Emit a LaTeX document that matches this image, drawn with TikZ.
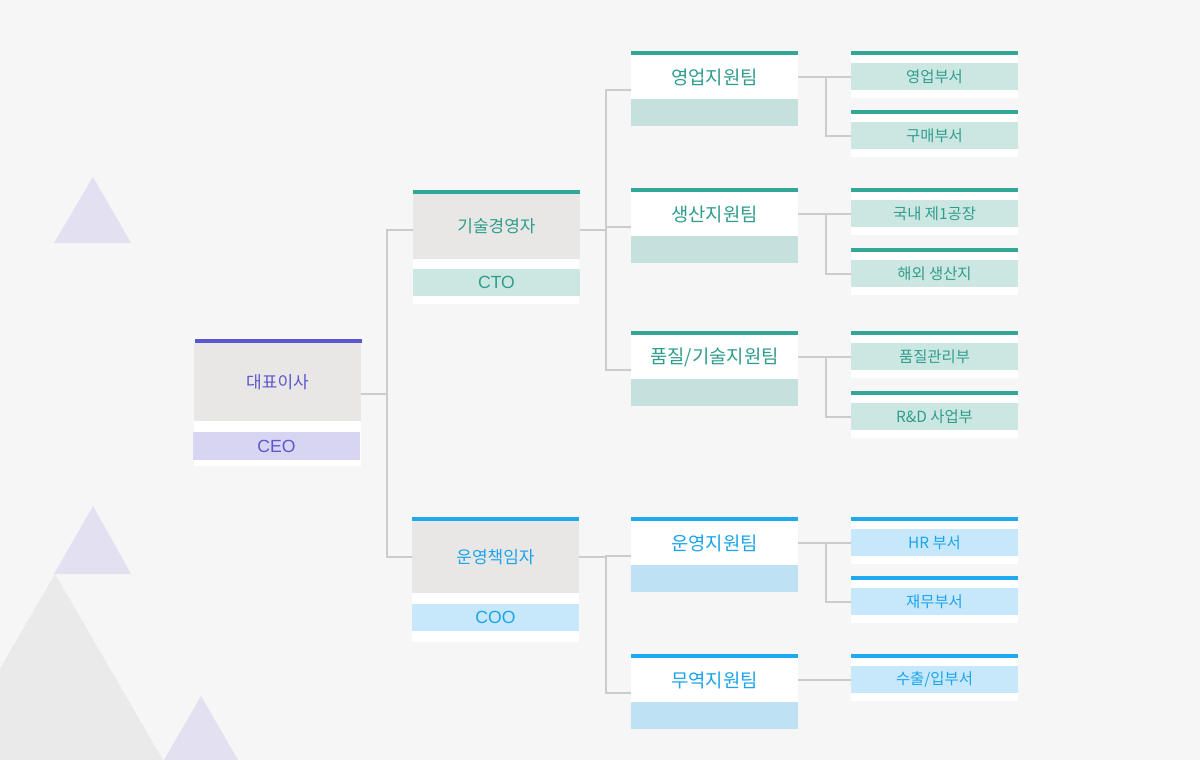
\documentclass[tikz,border=0pt]{standalone}
\usepackage{fontspec}
\setmainfont{Noto Sans CJK KR}
\newfontfamily\codefam{Liberation Sans}
\definecolor{bg}{HTML}{F6F6F6}
\definecolor{trilav}{HTML}{E3E1F1}
\definecolor{trigray}{HTML}{EAEAEA}
\definecolor{purp}{HTML}{5B57CF}
\definecolor{lav}{HTML}{D8D5F2}
\definecolor{gbody}{HTML}{E8E7E5}
\definecolor{teal}{HTML}{33A797}
\definecolor{tealtxt}{HTML}{2E9D8D}
\definecolor{mintB}{HTML}{C5E1DD}
\definecolor{mintC}{HTML}{CCE7E2}
\definecolor{blu}{HTML}{1FAAF0}
\definecolor{blutxt}{HTML}{1BA4EC}
\definecolor{bluB}{HTML}{BEE1F3}
\definecolor{bluC}{HTML}{C6E8FA}
\definecolor{linec}{HTML}{CCCCCC}
\tikzset{
  conn/.style={draw=linec, line width=1pt},
  boxpart/.style={inner sep=0pt, outer sep=0pt, anchor=north west, minimum width=83.5pt},
  lvlone/.style={boxpart, font=\fontsize{8.5}{10}\selectfont},
  codefont/.style={font=\codefam\fontsize{8.8}{10}\selectfont},
  lvltwo/.style={boxpart, fill=white, minimum height=22pt, font=\fontsize{9.4}{11}\selectfont},
  lvlthree/.style={boxpart, minimum height=13.5pt, font=\fontsize{7.7}{9}\selectfont},
}
% third level box: name, top, bar colour, strip colour, text colour, text
\newcommand\thirdbox[6]{%
  \fill[white] (851,#2) rectangle (1018,#2+47);
  \fill[#3] (851,#2) rectangle (1018,#2+4);
  \node[lvlthree, fill=#4, text=#5] (#1) at (851,#2+12) {\raisebox{-0.8pt}{#6}};
}
% second level box: name, top, bar colour, strip colour, text colour, text
\newcommand\secondbox[6]{%
  \fill[#3] (631,#2) rectangle (798,#2+4);
  \node[lvltwo, text=#5] (#1) at (631,#2+4) {\raisebox{-1pt}{#6}};
  \fill[#4] (631,#2+48) rectangle (798,#2+75);
}
\begin{document}
\begin{tikzpicture}[x=0.5pt,y=-0.5pt]
\fill[bg] (0,0) rectangle (1200,760);
\useasboundingbox (0,0) rectangle (1200,760);
% background triangles
\fill[trilav] (93,177) -- (131,243) -- (54,243) -- cycle;
\fill[trilav] (93,506) -- (131,574) -- (54,574) -- cycle;
\fill[trigray] (55,574) -- (163,760) -- (-53,760) -- cycle;
\fill[trilav] (201,696) -- (238,760) -- (164,760) -- cycle;

% ---- level 1: CEO
\fill[white] (194,339) rectangle (361,466);
\fill[purp] (195,339) rectangle (362,343);
\node[lvlone, fill=gbody, minimum height=39pt, text=purp] (ceo) at (194,343) {대표이사};
\node[lvlone, fill=lav, minimum height=14pt, text=purp, codefont] (ceocode) at (193,432) {CEO};

% ---- CTO
\fill[white] (413,190) rectangle (579,304);
\fill[teal] (413,190) rectangle (580,194);
\node[lvlone, fill=gbody, minimum height=32.5pt, text=tealtxt] (cto) at (413,194) {기술경영자};
\node[lvlone, fill=mintC, minimum height=13.5pt, text=tealtxt, codefont] (ctocode) at (413,269) {CTO};

% ---- COO
\fill[white] (412,517) rectangle (579,642);
\fill[blu] (412,517) rectangle (579,521);
\node[lvlone, fill=gbody, minimum height=36pt, text=blutxt] (coo) at (412,521) {운영책임자};
\node[lvlone, fill=bluC, minimum height=13.5pt, text=blutxt, codefont] (coocode) at (412,604) {COO};

% ---- level 2
\secondbox{sales}{51}{teal}{mintB}{tealtxt}{영업지원팀}
\secondbox{prod}{188}{teal}{mintB}{tealtxt}{생산지원팀}
\secondbox{qual}{331}{teal}{mintB}{tealtxt}{품질/기술지원팀}
\secondbox{ops}{517}{blu}{bluB}{blutxt}{운영지원팀}
\secondbox{trade}{654}{blu}{bluB}{blutxt}{무역지원팀}

% ---- level 3
\thirdbox{salesdept}{51}{teal}{mintC}{tealtxt}{영업부서}
\thirdbox{buydept}{110}{teal}{mintC}{tealtxt}{구매부서}
\thirdbox{plant}{188}{teal}{mintC}{tealtxt}{국내 제1공장}
\thirdbox{overseas}{248}{teal}{mintC}{tealtxt}{해외 생산지}
\thirdbox{qc}{331}{teal}{mintC}{tealtxt}{품질관리부}
\thirdbox{rnd}{391}{teal}{mintC}{tealtxt}{R\&D 사업부}
\thirdbox{hr}{517}{blu}{bluC}{blutxt}{HR 부서}
\thirdbox{fin}{576}{blu}{bluC}{blutxt}{재무부서}
\thirdbox{expimp}{654}{blu}{bluC}{blutxt}{수출/입부서}

% ---- connectors
\draw[conn] ([yshift=-6pt]ceo.east) -- ++(13pt,0) coordinate (j0);
\draw[conn] ([yshift=-1.75pt]cto.west) -| (j0);
\draw[conn] (coo.west) -| (j0);

\draw[conn] ([yshift=-1.5pt]cto.east) -- ++(13pt,0) coordinate (j1);
\draw[conn] ([yshift=-6.5pt]sales.west) -| (j1);
\draw[conn] ([yshift=-6.5pt]prod.west) -| (j1);
\draw[conn] ([yshift=-6.5pt]qual.west) -| (j1);

\draw[conn] (coo.east) -- ++(13.5pt,0) coordinate (j2);
\draw[conn] ([yshift=-6.5pt]ops.west) -| (j2);
\draw[conn] ([yshift=-6.5pt]trade.west) -| (j2);

\draw[conn] (sales.east) -- ++(14pt,0) coordinate (j3);
\draw[conn] (salesdept.west) -| (j3);
\draw[conn] (buydept.west) -| (j3);

\draw[conn] (prod.east) -- ++(14pt,0) coordinate (j4);
\draw[conn] (plant.west) -| (j4);
\draw[conn] (overseas.west) -| (j4);

\draw[conn] (qual.east) -- ++(14pt,0) coordinate (j5);
\draw[conn] (qc.west) -| (j5);
\draw[conn] (rnd.west) -| (j5);

\draw[conn] (ops.east) -- ++(14pt,0) coordinate (j6);
\draw[conn] (hr.west) -| (j6);
\draw[conn] (fin.west) -| (j6);

\draw[conn] (trade.east) -- (trade.east -| expimp.west);
\end{tikzpicture}
\end{document}
